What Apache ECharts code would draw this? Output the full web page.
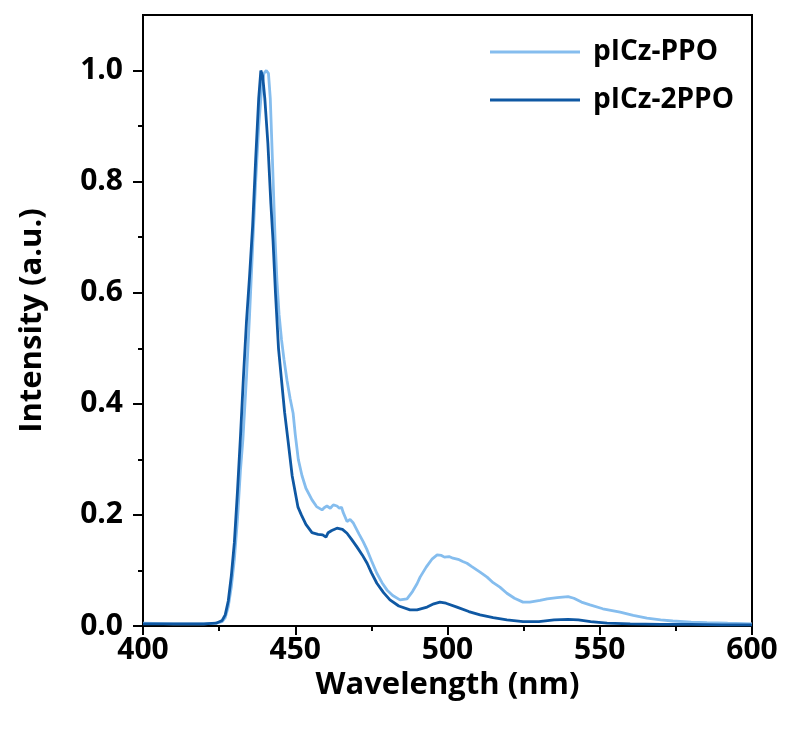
<!DOCTYPE html>
<html>
<head>
<meta charset="utf-8">
<script src="https://cdn.jsdelivr.net/npm/echarts@6/dist/echarts.min.js"></script>
<style>html,body{margin:0;padding:0;background:#fff}#c{width:785px;height:733px}</style>
</head>
<body>
<div id="c"></div>
<script>
// pICz-PPO (light blue)
var wl1 = [400,410,420,424,426,427,428,429,430,431,432,432.8,434,435,436.1,437,438,439,439.7,440.5,441.2,441.8,442.5,443.4,444,444.7,445.5,446.3,447.3,448.3,449.3,450,451,452.2,453.5,455.5,457,458.8,459.5,460.4,461.5,462.5,463.7,464.5,465.2,465.7,467,468,469,469.6,471,472.3,473.6,475,476.8,478.5,480.1,482,484.4,486.7,488.5,490,491,493,495,496.6,498,499,500.5,501.8,503.5,505,506.4,508,510.7,513,515,517.2,519.5,522,524.8,527,530.4,532.7,536,539.6,541.5,544,546.8,551,556.7,561,565.5,570,574,580,585.2,592,600];
var int1 = [0.005,0.004,0.004,0.005,0.008,0.015,0.035,0.07,0.12,0.19,0.28,0.335,0.45,0.56,0.694,0.8,0.9,0.97,0.995,1.0,0.995,0.95,0.84,0.694,0.62,0.56,0.515,0.48,0.442,0.41,0.383,0.345,0.3,0.271,0.248,0.227,0.215,0.209,0.213,0.216,0.212,0.218,0.216,0.212,0.214,0.205,0.188,0.192,0.186,0.183,0.165,0.152,0.137,0.118,0.095,0.078,0.065,0.055,0.047,0.049,0.062,0.076,0.088,0.106,0.121,0.128,0.127,0.124,0.125,0.122,0.12,0.116,0.113,0.107,0.097,0.088,0.078,0.07,0.059,0.05,0.043,0.043,0.046,0.049,0.051,0.053,0.05,0.043,0.038,0.031,0.025,0.019,0.014,0.011,0.009,0.007,0.006,0.005,0.004];
// pICz-2PPO (dark blue)
var wl2 = [400,410,420,424,426,427,428,429,430,431,432,433,434,435,436,437,438,438.7,439.3,440,441,442,442.7,443.5,444.5,445.5,446.5,447.6,449,450.9,452,453.5,455.5,457.5,459,460.1,460.8,462,463.7,465.5,467,468.5,470.3,472,473.6,475,476.8,479,481.1,484,487.7,490,493.3,495.5,497.5,499.5,503.1,507,510.7,515,519.5,524.8,530,535,539.6,543,547,552.4,560,570,580,590,600];
var int2 = [0.004,0.004,0.004,0.005,0.01,0.02,0.045,0.09,0.15,0.24,0.34,0.45,0.55,0.63,0.72,0.84,0.95,1.0,0.99,0.95,0.87,0.76,0.694,0.6,0.5,0.442,0.385,0.335,0.27,0.214,0.2,0.183,0.168,0.165,0.164,0.16,0.168,0.172,0.176,0.174,0.167,0.156,0.142,0.128,0.113,0.096,0.077,0.06,0.047,0.036,0.029,0.029,0.034,0.04,0.043,0.041,0.034,0.026,0.02,0.015,0.011,0.008,0.008,0.011,0.012,0.011,0.008,0.005,0.004,0.003,0.003,0.002,0.002];

var seriesNames = ['pICz-PPO','pICz-2PPO'];
var xTicks = [400,450,500,550,600];
var yTicks = [0,0.2,0.4,0.6,0.8,1.0];
var yMinorTicks = [0.1,0.3,0.5,0.7,0.9];

var FONT = '"Open Sans"';
function pairs(x, y){ return x.map(function(v,i){ return [v, y[i]]; }); }
var legendText = {fontFamily:FONT,fontWeight:'bold',fontSize:28,color:'#000',padding:[0,0,0,8]};

var chart = echarts.init(document.getElementById('c'), null, {renderer:'canvas'});
chart.setOption({
  animation:false,
  backgroundColor:'#fff',
  grid:{left:143,right:33,top:15,bottom:107,show:true,borderColor:'#000',borderWidth:2,backgroundColor:'transparent'},
  legend:[
    {data:[seriesNames[0]],left:485,top:33,itemWidth:90,itemHeight:3,icon:'rect',textStyle:legendText},
    {data:[seriesNames[1]],left:485,top:81,itemWidth:90,itemHeight:3,icon:'rect',textStyle:legendText}
  ],
  xAxis:{
    type:'value',min:xTicks[0],max:xTicks[xTicks.length-1],interval:50,
    name:'Wavelength (nm)',nameLocation:'middle',nameGap:44,
    nameTextStyle:{fontFamily:FONT,fontWeight:'bold',fontSize:31,color:'#000'},
    axisLine:{onZero:false,lineStyle:{color:'#000',width:2}},
    axisTick:{show:true,inside:false,length:9,lineStyle:{color:'#000',width:2}},
    minorTick:{show:true,splitNumber:2,length:5,lineStyle:{color:'#000',width:2}},
    splitLine:{show:false},
    axisLabel:{fontFamily:FONT,fontWeight:'bold',fontSize:30,color:'#000',margin:9}
  },
  yAxis:[{
    type:'value',min:0,max:1.1,
    name:'Intensity (a.u.)',nameLocation:'middle',nameGap:95,
    nameTextStyle:{fontFamily:FONT,fontWeight:'bold',fontSize:31,color:'#000'},
    axisLine:{onZero:false,lineStyle:{color:'#000',width:2}},
    axisTick:{show:true,inside:false,length:10,customValues:yTicks,lineStyle:{color:'#000',width:2}},
    splitLine:{show:false},
    axisLabel:{fontFamily:FONT,fontWeight:'bold',fontSize:30,color:'#000',margin:20,customValues:yTicks,
      formatter:function(v){return v.toFixed(1);}}
  },{
    type:'value',min:0,max:1.1,position:'left',
    axisLine:{show:false},
    axisTick:{show:true,inside:false,length:5,customValues:yMinorTicks,lineStyle:{color:'#000',width:2}},
    axisLabel:{show:false},
    splitLine:{show:false}
  }],
  series:[
    {name:seriesNames[0],type:'line',data:pairs(wl1,int1),symbol:'none',smooth:false,
     lineStyle:{color:'#85bdee',width:2.8},itemStyle:{color:'#85bdee'},z:2},
    {name:seriesNames[1],type:'line',data:pairs(wl2,int2),symbol:'none',smooth:false,
     lineStyle:{color:'#0f58a3',width:2.8},itemStyle:{color:'#0f58a3'},z:3}
  ]
});
</script>
</body>
</html>
